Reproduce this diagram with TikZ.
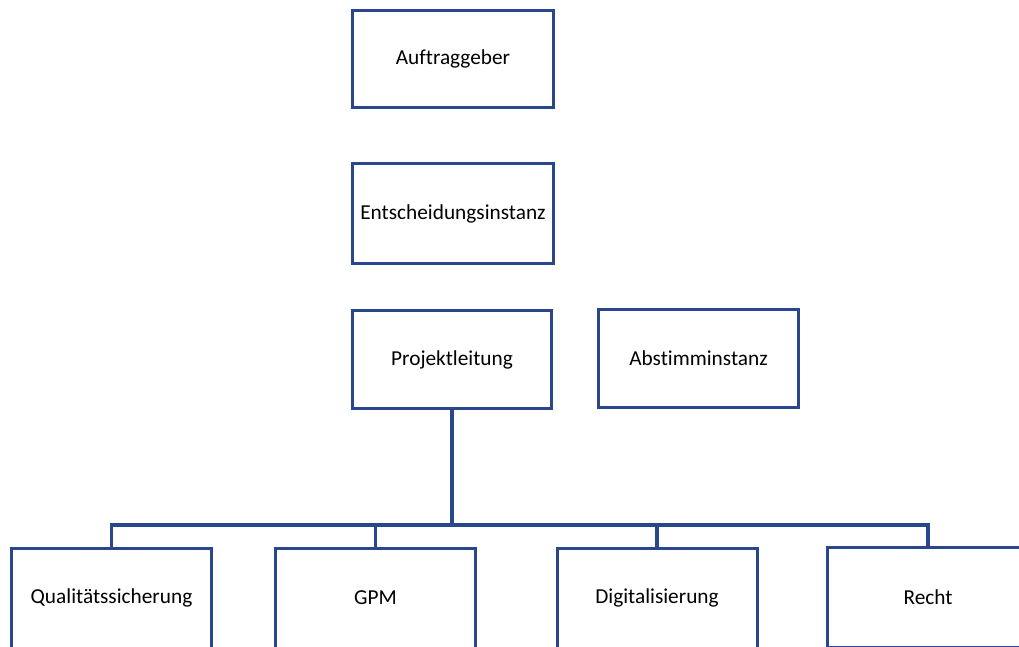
\documentclass[tikz,border=0pt]{standalone}
\usepackage{fontspec}
\setmainfont[RawFeature={-liga;-clig;-dlig}]{Carlito}
\definecolor{orgblue}{RGB}{42,70,140}
\begin{document}
\begin{tikzpicture}[x=1pt,y=-1pt,
  box/.style={draw=orgblue,line width=3pt,fill=white,rectangle,inner sep=0pt,
    font=\fontsize{21.3}{25}\selectfont,text=black},
  link/.style={draw=orgblue,line width=3.5pt}]
\useasboundingbox (0,0) rectangle (1019,647);
\clip (0,0) rectangle (1019,647);
\node[box,minimum width=201pt,minimum height=97pt] (auf) at (453,59) {Auftraggeber};
\node[box,minimum width=201pt,minimum height=100pt] (ent) at (453,213.5) {Entscheidungsinstanz};
\node[box,minimum width=199pt,minimum height=98pt] (pl) at (452,359.5) {Projektleitung};
\node[box,minimum width=200pt,minimum height=98pt] (abs) at (698.5,358.5) {Abstimminstanz};
\coordinate (bus) at (452,525);
\draw[link,line width=4pt] (pl.south) -- (bus);
\node[box,minimum width=200pt,minimum height=100pt] (qs) at (111.5,598) {Qualitätssicherung};
\node[box,minimum width=200pt,minimum height=100pt] (gpm) at (375.5,598) {GPM};
\node[box,minimum width=200pt,minimum height=100pt] (dig) at (657,598) {Digitalisierung};
\node[box,minimum width=201pt,minimum height=100pt] (re) at (928,597) {Recht};
\draw[link] (bus) -| (qs.north);
\draw[link] (bus) -| (gpm.north);
\draw[link] (bus) -| (dig.north);
\draw[link] (bus) -| (re.north);
\end{tikzpicture}
\end{document}
